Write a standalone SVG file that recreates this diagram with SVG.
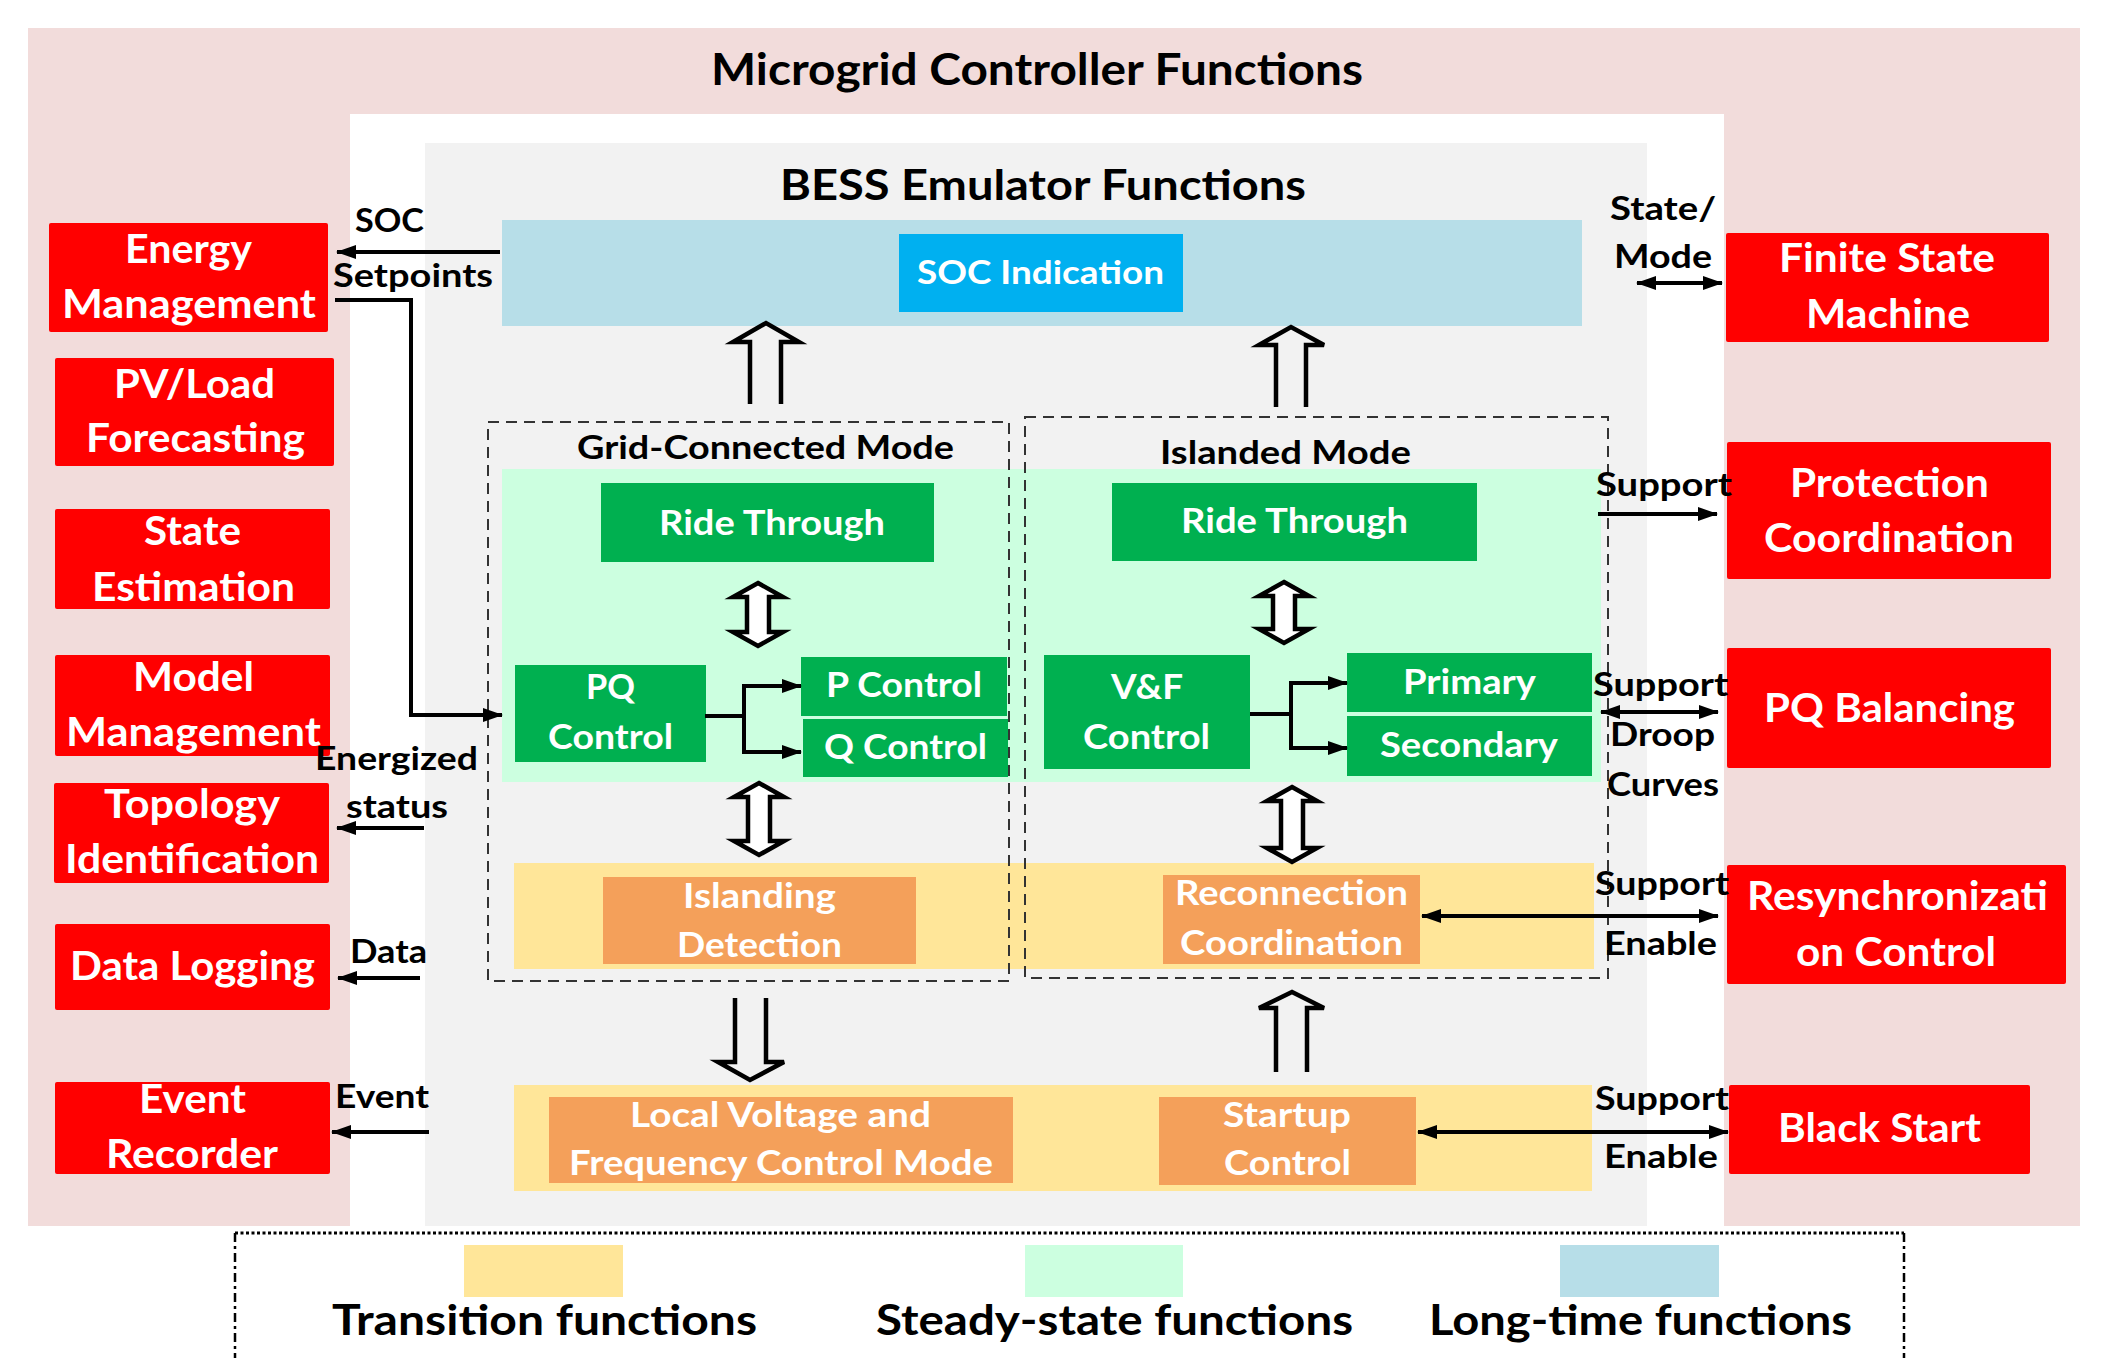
<svg xmlns="http://www.w3.org/2000/svg" width="2102" height="1358" viewBox="0 0 2102 1358">
<defs>
<style>
.t{font-family:Lato,'Open Sans','Liberation Sans',sans-serif;font-weight:bold}
.w{fill:#fff}
.k{fill:#000}
.red{fill:#FF0000}
.gr{fill:#00B050}
.or{fill:#F4A05A}
.s40{font-size:40px}
.s35{font-size:35px}
.s34{font-size:34px}
.s33{font-size:33px}
.s42{font-size:42px}
.s44{font-size:44px}
.ln{fill:none;stroke:#000;stroke-width:4}
.arr{fill:none;stroke:#000;stroke-width:4;marker-end:url(#ah)}
.dbl{fill:none;stroke:#000;stroke-width:4;marker-start:url(#ah);marker-end:url(#ah)}
.open{fill:none;stroke:#000;stroke-width:4.5;stroke-linejoin:miter}
.blk{fill:#fff;stroke:#000;stroke-width:4.5;stroke-linejoin:miter}
.dash{fill:none;stroke:#333;stroke-width:2;stroke-dasharray:11 7}
</style>
<marker id="ah" viewBox="0 0 20 14" refX="19" refY="7" markerWidth="20" markerHeight="14" markerUnits="userSpaceOnUse" orient="auto-start-reverse"><path d="M0,0 L20,7 L0,14 z" fill="#000"/></marker>
</defs>
<rect width="2102" height="1358" fill="#fff"/>
<g id="backgrounds">
<rect x="28" y="28" width="2052" height="1198" fill="#F2DCDB"/>
<rect x="350" y="114" width="1374" height="1112" fill="#fff"/>
<rect x="425" y="143" width="1222" height="1083" fill="#F2F2F2"/>
<rect x="502" y="220" width="1080" height="106" fill="#B7DEE8"/>
<rect x="502" y="469" width="1099" height="313" fill="#CCFFE0"/>
<rect x="514" y="863" width="1080" height="106" fill="#FFE699"/>
<rect x="514" y="1085" width="1078" height="106" fill="#FFE699"/>
</g>
<g id="titles">
<text class="t k s44" x="711" y="85" textLength="652" lengthAdjust="spacingAndGlyphs">Microgrid Controller Functions</text>
<text class="t k s42" x="780" y="200" textLength="526" lengthAdjust="spacingAndGlyphs">BESS Emulator Functions</text>
</g>
<g id="mode-boxes">
<rect class="dash" x="488" y="422" width="521" height="559"/>
<text class="t k s33" x="577" y="459" textLength="377" lengthAdjust="spacingAndGlyphs">Grid-Connected Mode</text>
<rect class="dash" x="1025" y="417" width="583" height="561"/>
<text class="t k s33" x="1160" y="464" textLength="251" lengthAdjust="spacingAndGlyphs">Islanded Mode</text>
</g>
<g id="energy-management"><rect class="red" x="49" y="223" width="279" height="109" rx="2"/>
<text class="t w s40" x="125" y="263" textLength="127" lengthAdjust="spacingAndGlyphs">Energy</text>
<text class="t w s40" x="62" y="318" textLength="254" lengthAdjust="spacingAndGlyphs">Management</text></g>
<g id="pv-load-forecasting"><rect class="red" x="55" y="358" width="279" height="108" rx="2"/>
<text class="t w s40" x="114" y="398" textLength="161" lengthAdjust="spacingAndGlyphs">PV/Load</text>
<text class="t w s40" x="86" y="452" textLength="219" lengthAdjust="spacingAndGlyphs">Forecasting</text></g>
<g id="state-estimation"><rect class="red" x="55" y="509" width="275" height="100" rx="2"/>
<text class="t w s40" x="144" y="545" textLength="97" lengthAdjust="spacingAndGlyphs">State</text>
<text class="t w s40" x="92" y="601" textLength="203" lengthAdjust="spacingAndGlyphs">Estimation</text></g>
<g id="model-management"><rect class="red" x="55" y="655" width="275" height="101" rx="2"/>
<text class="t w s40" x="133" y="691" textLength="121" lengthAdjust="spacingAndGlyphs">Model</text>
<text class="t w s40" x="66" y="746" textLength="255" lengthAdjust="spacingAndGlyphs">Management</text></g>
<g id="topology-identification"><rect class="red" x="54" y="783" width="275" height="100" rx="2"/>
<text class="t w s40" x="104" y="818" textLength="176" lengthAdjust="spacingAndGlyphs">Topology</text>
<text class="t w s40" x="65" y="873" textLength="254" lengthAdjust="spacingAndGlyphs">Identification</text></g>
<g id="data-logging"><rect class="red" x="55" y="924" width="275" height="86" rx="2"/>
<text class="t w s40" x="70" y="980" textLength="245" lengthAdjust="spacingAndGlyphs">Data Logging</text></g>
<g id="event-recorder"><rect class="red" x="55" y="1082" width="275" height="92" rx="2"/>
<text class="t w s40" x="139" y="1113" textLength="107" lengthAdjust="spacingAndGlyphs">Event</text>
<text class="t w s40" x="106" y="1168" textLength="172" lengthAdjust="spacingAndGlyphs">Recorder</text></g>
<g id="finite-state-machine"><rect class="red" x="1726" y="233" width="323" height="109" rx="2"/>
<text class="t w s40" x="1779" y="272" textLength="216" lengthAdjust="spacingAndGlyphs">Finite State</text>
<text class="t w s40" x="1806" y="328" textLength="164" lengthAdjust="spacingAndGlyphs">Machine</text></g>
<g id="protection-coordination"><rect class="red" x="1727" y="442" width="324" height="137" rx="2"/>
<text class="t w s40" x="1790" y="497" textLength="199" lengthAdjust="spacingAndGlyphs">Protection</text>
<text class="t w s40" x="1764" y="552" textLength="250" lengthAdjust="spacingAndGlyphs">Coordination</text></g>
<g id="pq-balancing"><rect class="red" x="1727" y="648" width="324" height="120" rx="2"/>
<text class="t w s40" x="1764" y="722" textLength="251" lengthAdjust="spacingAndGlyphs">PQ Balancing</text></g>
<g id="resynchronization-control"><rect class="red" x="1727" y="865" width="339" height="119" rx="2"/>
<text class="t w s40" x="1747" y="910" textLength="301" lengthAdjust="spacingAndGlyphs">Resynchronizati</text>
<text class="t w s40" x="1796" y="966" textLength="200" lengthAdjust="spacingAndGlyphs">on Control</text></g>
<g id="black-start"><rect class="red" x="1729" y="1085" width="301" height="89" rx="2"/>
<text class="t w s40" x="1778" y="1142" textLength="203" lengthAdjust="spacingAndGlyphs">Black Start</text></g>
<g id="soc-indication"><rect x="899" y="234" width="284" height="78" fill="#00B0F0"/>
<text class="t w s33" x="917" y="284" textLength="247" lengthAdjust="spacingAndGlyphs">SOC Indication</text></g>
<g id="grid-ride-through"><rect class="gr" x="601" y="483" width="333" height="79"/>
<text class="t w s35" x="659" y="535" textLength="226" lengthAdjust="spacingAndGlyphs">Ride Through</text></g>
<g id="pq-control"><rect class="gr" x="515" y="665" width="191" height="97"/>
<text class="t w s35" x="586" y="699" textLength="49" lengthAdjust="spacingAndGlyphs">PQ</text>
<text class="t w s35" x="548" y="749" textLength="125" lengthAdjust="spacingAndGlyphs">Control</text></g>
<g id="p-control"><rect class="gr" x="801" y="657" width="206" height="59"/>
<text class="t w s35" x="826" y="697" textLength="156" lengthAdjust="spacingAndGlyphs">P Control</text></g>
<g id="q-control"><rect class="gr" x="803" y="719" width="205" height="58"/>
<text class="t w s35" x="824" y="759" textLength="163" lengthAdjust="spacingAndGlyphs">Q Control</text></g>
<g id="islanded-ride-through"><rect class="gr" x="1112" y="483" width="365" height="78"/>
<text class="t w s35" x="1181" y="533" textLength="227" lengthAdjust="spacingAndGlyphs">Ride Through</text></g>
<g id="vf-control"><rect class="gr" x="1044" y="655" width="206" height="114"/>
<text class="t w s35" x="1111" y="699" textLength="72" lengthAdjust="spacingAndGlyphs">V&amp;F</text>
<text class="t w s35" x="1083" y="749" textLength="127" lengthAdjust="spacingAndGlyphs">Control</text></g>
<g id="primary"><rect class="gr" x="1347" y="653" width="245" height="59"/>
<text class="t w s35" x="1403" y="694" textLength="133" lengthAdjust="spacingAndGlyphs">Primary</text></g>
<g id="secondary"><rect class="gr" x="1347" y="716" width="245" height="60"/>
<text class="t w s35" x="1380" y="757" textLength="178" lengthAdjust="spacingAndGlyphs">Secondary</text></g>
<g id="islanding-detection"><rect class="or" x="603" y="877" width="313" height="87"/>
<text class="t w s34" x="683" y="908" textLength="153" lengthAdjust="spacingAndGlyphs">Islanding</text>
<text class="t w s34" x="677" y="957" textLength="165" lengthAdjust="spacingAndGlyphs">Detection</text></g>
<g id="reconnection-coordination"><rect class="or" x="1163" y="875" width="257" height="89"/>
<text class="t w s34" x="1175" y="905" textLength="233" lengthAdjust="spacingAndGlyphs">Reconnection</text>
<text class="t w s34" x="1180" y="955" textLength="223" lengthAdjust="spacingAndGlyphs">Coordination</text></g>
<g id="local-vf-control"><rect class="or" x="549" y="1097" width="464" height="86"/>
<text class="t w s34" x="630" y="1127" textLength="301" lengthAdjust="spacingAndGlyphs">Local Voltage and</text>
<text class="t w s34" x="569" y="1175" textLength="424" lengthAdjust="spacingAndGlyphs">Frequency Control Mode</text></g>
<g id="startup-control"><rect class="or" x="1159" y="1097" width="257" height="88"/>
<text class="t w s34" x="1223" y="1127" textLength="128" lengthAdjust="spacingAndGlyphs">Startup</text>
<text class="t w s34" x="1224" y="1175" textLength="127" lengthAdjust="spacingAndGlyphs">Control</text></g>
<g id="connectors">
<path class="arr" d="M500,252 H337"/>
<path class="arr" d="M335,300 H411 V715 H502"/>
<path class="arr" d="M424,828 H337"/>
<path class="arr" d="M420,978 H338"/>
<path class="arr" d="M429,1132 H332"/>
<path class="dbl" d="M1637,283 H1722"/>
<path class="arr" d="M1598,514 H1717"/>
<path class="dbl" d="M1601,712 H1718"/>
<path class="dbl" d="M1422,916 H1718"/>
<path class="dbl" d="M1418,1132 H1728"/>
<path class="ln" d="M705,716 H744 M744,686 V752"/>
<path class="arr" d="M742,686 H801"/>
<path class="arr" d="M742,752 H801"/>
<path class="ln" d="M1250,714 H1291 M1291,683 V748"/>
<path class="arr" d="M1289,683 H1347"/>
<path class="arr" d="M1289,748 H1347"/>
<path class="open" d="M750,404 V342 H733 L766,323 L799,342 H781 V404"/>
<path class="open" d="M1276,407 V345 H1259 L1291,327 L1324,345 H1306 V407"/>
<path class="open" d="M735,998 V1062 H718 L750,1080 L784,1062 H766 V998"/>
<path class="open" d="M1276,1072 V1008 H1259 L1292,992 L1324,1008 H1307 V1072"/>
<path class="blk" d="M758,583 L783,597 L769,597 L769,632 L783,632 L758,646 L733,632 L747,632 L747,597 L733,597 Z"/>
<path class="blk" d="M759,783 L784,797 L770,797 L770,841 L784,841 L759,855 L734,841 L748,841 L748,797 L734,797 Z"/>
<path class="blk" d="M1284,582 L1309,596 L1295,596 L1295,629 L1309,629 L1284,643 L1259,629 L1273,629 L1273,596 L1259,596 Z"/>
<path class="blk" d="M1292,787 L1317,801 L1303,801 L1303,848 L1317,848 L1292,862 L1267,848 L1281,848 L1281,801 L1267,801 Z"/>
</g>
<g id="connector-labels">
<text class="t k s33" x="355" y="232" textLength="69" lengthAdjust="spacingAndGlyphs">SOC</text>
<text class="t k s33" x="333" y="287" textLength="160" lengthAdjust="spacingAndGlyphs">Setpoints</text>
<text class="t k s33" x="315" y="770" textLength="163" lengthAdjust="spacingAndGlyphs">Energized</text>
<text class="t k s33" x="346" y="818" textLength="102" lengthAdjust="spacingAndGlyphs">status</text>
<text class="t k s33" x="350" y="963" textLength="77" lengthAdjust="spacingAndGlyphs">Data</text>
<text class="t k s33" x="335" y="1108" textLength="94" lengthAdjust="spacingAndGlyphs">Event</text>
<text class="t k s33" x="1610" y="220" textLength="106" lengthAdjust="spacingAndGlyphs">State/</text>
<text class="t k s33" x="1614" y="268" textLength="98" lengthAdjust="spacingAndGlyphs">Mode</text>
<text class="t k s33" x="1596" y="496" textLength="136" lengthAdjust="spacingAndGlyphs">Support</text>
<text class="t k s33" x="1593" y="696" textLength="135" lengthAdjust="spacingAndGlyphs">Support</text>
<text class="t k s33" x="1610" y="746" textLength="105" lengthAdjust="spacingAndGlyphs">Droop</text>
<text class="t k s33" x="1607" y="796" textLength="112" lengthAdjust="spacingAndGlyphs">Curves</text>
<text class="t k s33" x="1595" y="895" textLength="134" lengthAdjust="spacingAndGlyphs">Support</text>
<text class="t k s33" x="1604" y="955" textLength="113" lengthAdjust="spacingAndGlyphs">Enable</text>
<text class="t k s33" x="1595" y="1110" textLength="134" lengthAdjust="spacingAndGlyphs">Support</text>
<text class="t k s33" x="1604" y="1168" textLength="114" lengthAdjust="spacingAndGlyphs">Enable</text>
</g>
<g id="legend">
<path d="M235,1233 H1904" fill="none" stroke="#000" stroke-width="3" stroke-dasharray="3 2.5"/>
<path d="M235,1233 V1358 M1904,1233 V1358" fill="none" stroke="#000" stroke-width="2.5" stroke-dasharray="9 4 3 4"/>
<rect x="464" y="1245" width="159" height="52" fill="#FFE699"/>
<rect x="1025" y="1245" width="158" height="52" fill="#CCFFE0"/>
<rect x="1560" y="1245" width="159" height="52" fill="#B7DEE8"/>
<text class="t k s42" x="332" y="1335" textLength="425" lengthAdjust="spacingAndGlyphs">Transition functions</text>
<text class="t k s42" x="876" y="1335" textLength="477" lengthAdjust="spacingAndGlyphs">Steady-state functions</text>
<text class="t k s42" x="1429" y="1335" textLength="423" lengthAdjust="spacingAndGlyphs">Long-time functions</text>
</g>
</svg>
